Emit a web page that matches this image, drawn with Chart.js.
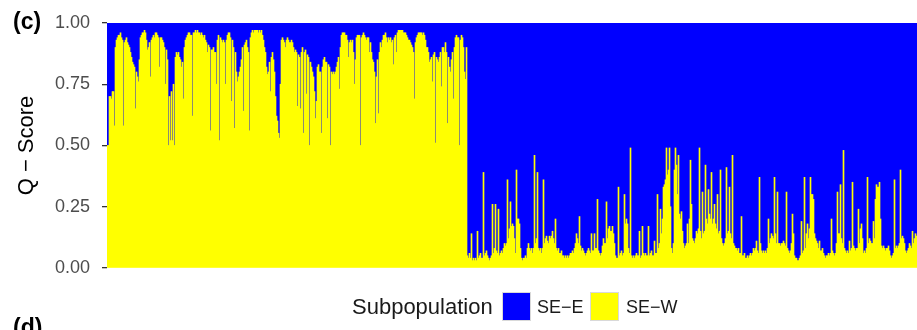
<!DOCTYPE html>
<html>
<head>
<meta charset="utf-8">
<script src="https://cdn.jsdelivr.net/npm/chart.js@4/dist/chart.umd.min.js"></script>
<style>
  html, body { margin: 0; padding: 0; background: #ffffff; }
  #wrap { position: relative; width: 917px; height: 330px; overflow: hidden; font-family: "Liberation Sans", Arial, sans-serif; }
  canvas { position: absolute; left: 0; top: 0; }
  .panel { position: absolute; left: 13px; font-weight: bold; font-size: 23px; line-height: 23px; color: #000; }
  .leg { position: absolute; white-space: nowrap; color: #1a1a1a; }
  .key { position: absolute; width: 29px; height: 29px; top: 292px; box-sizing: border-box; border: 1px solid #d9d9d9; }
</style>
</head>
<body>
<div id="wrap">
  <canvas id="c" width="917" height="330"></canvas>
  <div class="panel" style="top:10px;">(c)</div>
  <div class="panel" style="top:316px;">(d)</div>
  <div class="leg" style="left:352px; top:295px; font-size:22px; line-height:24px;">Subpopulation</div>
  <div class="key" style="left:502px; background:#0000FF;"></div>
  <div class="leg" style="left:537px; top:297px; font-size:18px; line-height:20px;">SE−E</div>
  <div class="key" style="left:590px; background:#FFFF00;"></div>
  <div class="leg" style="left:626px; top:297px; font-size:18px; line-height:20px;">SE−W</div>
</div>
<script>
// Q-score of each individual for subpopulation SE-W (yellow)
const seW = [
  0.50,0.50,0.70, 0.70,0.69,0.72, 0.72,0.58,0.90, 0.93,0.94,0.95, 0.95,0.96,0.94, 0.93,0.58,0.92, 0.93,0.94,0.92, 0.91,0.90,0.88, 0.86,0.84,0.83, 0.82,0.65,0.80,
  0.78,0.76,0.85, 0.94,0.95,0.96, 0.96,0.97,0.96, 0.93,0.89,0.90, 0.92,0.78,0.93, 0.94,0.95,0.94, 0.96,0.96,0.95, 0.94,0.82,0.94, 0.94,0.93,0.92, 0.90,0.75,0.89,
  0.85,0.50,0.70, 0.52,0.72,0.52, 0.75,0.50,0.86, 0.88,0.87,0.88, 0.86,0.85,0.82, 0.84,0.69,0.90, 0.93,0.94,0.95, 0.96,0.96,0.95, 0.95,0.62,0.96, 0.96,0.97,0.96,
  0.97,0.96,0.96, 0.95,0.96,0.95, 0.94,0.95,0.93, 0.92,0.88,0.91, 0.90,0.56,0.89, 0.89,0.90,0.88, 0.88,0.75,0.93, 0.95,0.52,0.94, 0.93,0.92,0.93, 0.92,0.75,0.93,
  0.95,0.96,0.96, 0.94,0.68,0.93, 0.90,0.57,0.88, 0.80,0.76,0.78, 0.80,0.82,0.85, 0.90,0.64,0.91, 0.92,0.93,0.90, 0.88,0.56,0.94, 0.96,0.97,0.96, 0.97,0.97,0.97,
  0.97,0.96,0.97, 0.96,0.97,0.95, 0.93,0.90,0.88, 0.82,0.79,0.80, 0.84,0.72,0.86, 0.88,0.85,0.80, 0.70,0.62,0.60, 0.55,0.53,0.75, 0.93,0.94,0.93, 0.92,0.90,0.93,
  0.94,0.93,0.92, 0.92,0.93,0.92, 0.90,0.88,0.89, 0.88,0.66,0.87, 0.86,0.65,0.88, 0.90,0.55,0.88, 0.89,0.71,0.87, 0.86,0.50,0.84, 0.82,0.80,0.78, 0.72,0.61,0.68,
  0.82,0.83,0.80, 0.80,0.55,0.82, 0.85,0.86,0.84, 0.84,0.61,0.83, 0.82,0.50,0.80, 0.79,0.80,0.79, 0.80,0.82,0.84, 0.86,0.73,0.90, 0.95,0.96,0.96, 0.96,0.95,0.95,
  0.93,0.86,0.92, 0.93,0.92,0.93, 0.88,0.75,0.85, 0.94,0.95,0.95, 0.95,0.50,0.94, 0.95,0.96,0.95, 0.94,0.93,0.94, 0.94,0.88,0.92, 0.88,0.85,0.84, 0.80,0.59,0.78,
  0.85,0.63,0.88, 0.92,0.90,0.93, 0.95,0.95,0.96, 0.94,0.92,0.94, 0.93,0.94,0.92, 0.93,0.83,0.94, 0.95,0.88,0.96, 0.97,0.97,0.97, 0.97,0.97,0.96, 0.96,0.96,0.95,
  0.94,0.93,0.93, 0.92,0.91,0.90, 0.88,0.69,0.92, 0.94,0.95,0.96, 0.96,0.96,0.96, 0.95,0.96,0.95, 0.93,0.90,0.90, 0.88,0.84,0.85, 0.86,0.76,0.87, 0.88,0.51,0.86,
  0.85,0.84,0.86, 0.88,0.74,0.90, 0.90,0.88,0.92, 0.88,0.59,0.86, 0.82,0.80,0.85, 0.88,0.69,0.90, 0.94,0.95,0.94, 0.94,0.50,0.93, 0.95,0.94,0.90, 0.80,0.77,0.90,
  0.05,0.04,0.06, 0.04,0.14,0.03, 0.04,0.03,0.04, 0.03,0.15,0.04, 0.05,0.06,0.04, 0.04,0.39,0.05, 0.06,0.07,0.05, 0.04,0.03,0.04, 0.05,0.26,0.06, 0.08,0.26,0.07,
  0.06,0.24,0.05, 0.06,0.07,0.06, 0.08,0.10,0.09, 0.10,0.36,0.12, 0.16,0.27,0.17, 0.18,0.17,0.12, 0.06,0.40,0.20, 0.20,0.18,0.08, 0.04,0.03,0.04, 0.04,0.05,0.04,
  0.08,0.10,0.08, 0.07,0.08,0.06, 0.08,0.46,0.10, 0.12,0.39,0.08, 0.07,0.08,0.06, 0.08,0.36,0.10, 0.12,0.13,0.11, 0.10,0.13,0.12, 0.13,0.15,0.12, 0.10,0.20,0.08,
  0.07,0.08,0.06, 0.06,0.07,0.05, 0.05,0.04,0.05, 0.04,0.05,0.04, 0.05,0.06,0.06, 0.07,0.06,0.08, 0.10,0.14,0.12, 0.10,0.21,0.09, 0.07,0.08,0.07, 0.06,0.05,0.06,
  0.07,0.08,0.07, 0.06,0.14,0.07, 0.07,0.14,0.08, 0.08,0.28,0.07, 0.06,0.05,0.06, 0.09,0.12,0.10, 0.10,0.27,0.12, 0.16,0.17,0.15, 0.15,0.17,0.14,
  0.10,0.05,0.04, 0.04,0.33,0.05, 0.06,0.07,0.05, 0.06,0.30,0.18, 0.20,0.18,0.08, 0.06,0.49,0.05, 0.04,0.05,0.04, 0.05,0.06,0.05, 0.05,0.15,0.04, 0.05,0.17,0.06,
  0.05,0.06,0.05, 0.05,0.17,0.05, 0.06,0.07,0.05, 0.05,0.11,0.06, 0.06,0.30,0.08, 0.10,0.24,0.14, 0.20,0.33,0.34, 0.36,0.49,0.38, 0.40,0.49,0.25, 0.08,0.06,0.10,
  0.40,0.49,0.42, 0.30,0.46,0.22, 0.20,0.23,0.15, 0.10,0.08,0.09, 0.10,0.18,0.10, 0.20,0.44,0.26, 0.12,0.11,0.10, 0.12,0.15,0.14, 0.16,0.49,0.15, 0.12,0.31,0.14,
  0.15,0.42,0.20, 0.18,0.32,0.22, 0.20,0.39,0.18, 0.20,0.26,0.18, 0.16,0.30,0.14, 0.15,0.40,0.12, 0.10,0.09,0.10, 0.12,0.41,0.14, 0.15,0.33,0.14, 0.12,0.46,0.10,
  0.09,0.08,0.08, 0.07,0.08,0.06, 0.06,0.21,0.05, 0.05,0.06,0.04, 0.04,0.05,0.04, 0.05,0.06,0.05, 0.06,0.08,0.07, 0.08,0.11,0.07, 0.06,0.37,0.10,
  0.07,0.06,0.07, 0.06,0.07,0.06, 0.08,0.20,0.10, 0.12,0.14,0.13, 0.12,0.37,0.14, 0.10,0.31,0.10, 0.10,0.09,0.10, 0.10,0.11,0.10, 0.09,0.31,0.08, 0.07,0.06,0.07,
  0.10,0.22,0.14, 0.05,0.04,0.04, 0.03,0.03,0.04, 0.05,0.19,0.06, 0.07,0.37,0.08, 0.14,0.18,0.12, 0.16,0.37,0.30, 0.30,0.28,0.14, 0.12,0.11,0.10, 0.08,0.11,0.07,
  0.07,0.08,0.06, 0.05,0.04,0.05, 0.05,0.06,0.05, 0.06,0.20,0.07, 0.06,0.05,0.06, 0.10,0.31,0.14, 0.14,0.34,0.12, 0.10,0.48,0.08, 0.07,0.06,0.07, 0.06,0.11,0.07,
  0.08,0.35,0.09, 0.08,0.07,0.08, 0.08,0.24,0.10, 0.16,0.18,0.12, 0.06,0.07,0.06, 0.08,0.37,0.10, 0.12,0.11,0.10, 0.10,0.19,0.12, 0.28,0.34,0.33, 0.33,0.35,0.20,
  0.09,0.08,0.09, 0.08,0.07,0.08, 0.08,0.09,0.07, 0.05,0.04,0.05, 0.06,0.36,0.08, 0.09,0.08,0.09, 0.10,0.40,0.12, 0.13,0.12,0.10, 0.07,0.06,0.07, 0.08,0.10,0.09, 0.08,0.15,0.10, 0.12,0.14,0.13
];

// Q-score of each individual for subpopulation SE-E (blue)
const seE = [
  0.50,0.50,0.30, 0.30,0.31,0.28, 0.28,0.42,0.10, 0.07,0.06,0.05, 0.05,0.04,0.06, 0.07,0.42,0.08, 0.07,0.06,0.08, 0.09,0.10,0.12, 0.14,0.16,0.17, 0.18,0.35,0.20,
  0.22,0.24,0.15, 0.06,0.05,0.04, 0.04,0.03,0.04, 0.07,0.11,0.10, 0.08,0.22,0.07, 0.06,0.05,0.06, 0.04,0.04,0.05, 0.06,0.18,0.06, 0.06,0.07,0.08, 0.10,0.25,0.11,
  0.15,0.50,0.30, 0.48,0.28,0.48, 0.25,0.50,0.14, 0.12,0.13,0.12, 0.14,0.15,0.18, 0.16,0.31,0.10, 0.07,0.06,0.05, 0.04,0.04,0.05, 0.05,0.38,0.04, 0.04,0.03,0.04,
  0.03,0.04,0.04, 0.05,0.04,0.05, 0.06,0.05,0.07, 0.08,0.12,0.09, 0.10,0.44,0.11, 0.11,0.10,0.12, 0.12,0.25,0.07, 0.05,0.48,0.06, 0.07,0.08,0.07, 0.08,0.25,0.07,
  0.05,0.04,0.04, 0.06,0.32,0.07, 0.10,0.43,0.12, 0.20,0.24,0.22, 0.20,0.18,0.15, 0.10,0.36,0.09, 0.08,0.07,0.10, 0.12,0.44,0.06, 0.04,0.03,0.04, 0.03,0.03,0.03,
  0.03,0.04,0.03, 0.04,0.03,0.05, 0.07,0.10,0.12, 0.18,0.21,0.20, 0.16,0.28,0.14, 0.12,0.15,0.20, 0.30,0.38,0.40, 0.45,0.47,0.25, 0.07,0.06,0.07, 0.08,0.10,0.07,
  0.06,0.07,0.08, 0.08,0.07,0.08, 0.10,0.12,0.11, 0.12,0.34,0.13, 0.14,0.35,0.12, 0.10,0.45,0.12, 0.11,0.29,0.13, 0.14,0.50,0.16, 0.18,0.20,0.22, 0.28,0.39,0.32,
  0.18,0.17,0.20, 0.20,0.45,0.18, 0.15,0.14,0.16, 0.16,0.39,0.17, 0.18,0.50,0.20, 0.21,0.20,0.21, 0.20,0.18,0.16, 0.14,0.27,0.10, 0.05,0.04,0.04, 0.04,0.05,0.05,
  0.07,0.14,0.08, 0.07,0.08,0.07, 0.12,0.25,0.15, 0.06,0.05,0.05, 0.05,0.50,0.06, 0.05,0.04,0.05, 0.06,0.07,0.06, 0.06,0.12,0.08, 0.12,0.15,0.16, 0.20,0.41,0.22,
  0.15,0.37,0.12, 0.08,0.10,0.07, 0.05,0.05,0.04, 0.06,0.08,0.06, 0.07,0.06,0.08, 0.07,0.17,0.06, 0.05,0.12,0.04, 0.03,0.03,0.03, 0.03,0.03,0.04, 0.04,0.04,0.05,
  0.06,0.07,0.07, 0.08,0.09,0.10, 0.12,0.31,0.08, 0.06,0.05,0.04, 0.04,0.04,0.04, 0.05,0.04,0.05, 0.07,0.10,0.10, 0.12,0.16,0.15, 0.14,0.24,0.13, 0.12,0.49,0.14,
  0.15,0.16,0.14, 0.12,0.26,0.10, 0.10,0.12,0.08, 0.12,0.41,0.14, 0.18,0.20,0.15, 0.12,0.31,0.10, 0.06,0.05,0.06, 0.06,0.50,0.07, 0.05,0.06,0.10, 0.20,0.23,0.10,
  0.95,0.96,0.94, 0.96,0.86,0.97, 0.96,0.97,0.96, 0.97,0.85,0.96, 0.95,0.94,0.96, 0.96,0.61,0.95, 0.94,0.93,0.95, 0.96,0.97,0.96, 0.95,0.74,0.94, 0.92,0.74,0.93,
  0.94,0.76,0.95, 0.94,0.93,0.94, 0.92,0.90,0.91, 0.90,0.64,0.88, 0.84,0.73,0.83, 0.82,0.83,0.88, 0.94,0.60,0.80, 0.80,0.82,0.92, 0.96,0.97,0.96, 0.96,0.95,0.96,
  0.92,0.90,0.92, 0.93,0.92,0.94, 0.92,0.54,0.90, 0.88,0.61,0.92, 0.93,0.92,0.94, 0.92,0.64,0.90, 0.88,0.87,0.89, 0.90,0.87,0.88, 0.87,0.85,0.88, 0.90,0.80,0.92,
  0.93,0.92,0.94, 0.94,0.93,0.95, 0.95,0.96,0.95, 0.96,0.95,0.96, 0.95,0.94,0.94, 0.93,0.94,0.92, 0.90,0.86,0.88, 0.90,0.79,0.91, 0.93,0.92,0.93, 0.94,0.95,0.94,
  0.93,0.92,0.93, 0.94,0.86,0.93, 0.93,0.86,0.92, 0.92,0.72,0.93, 0.94,0.95,0.94, 0.91,0.88,0.90, 0.90,0.73,0.88, 0.84,0.83,0.85, 0.85,0.83,0.86,
  0.90,0.95,0.96, 0.96,0.67,0.95, 0.94,0.93,0.95, 0.94,0.70,0.82, 0.80,0.82,0.92, 0.94,0.51,0.95, 0.96,0.95,0.96, 0.95,0.94,0.95, 0.95,0.85,0.96, 0.95,0.83,0.94,
  0.95,0.94,0.95, 0.95,0.83,0.95, 0.94,0.93,0.95, 0.95,0.89,0.94, 0.94,0.70,0.92, 0.90,0.76,0.86, 0.80,0.67,0.66, 0.64,0.51,0.62, 0.60,0.51,0.75, 0.92,0.94,0.90,
  0.60,0.51,0.58, 0.70,0.54,0.78, 0.80,0.77,0.85, 0.90,0.92,0.91, 0.90,0.82,0.90, 0.80,0.56,0.74, 0.88,0.89,0.90, 0.88,0.85,0.86, 0.84,0.51,0.85, 0.88,0.69,0.86,
  0.85,0.58,0.80, 0.82,0.68,0.78, 0.80,0.61,0.82, 0.80,0.74,0.82, 0.84,0.70,0.86, 0.85,0.60,0.88, 0.90,0.91,0.90, 0.88,0.59,0.86, 0.85,0.67,0.86, 0.88,0.54,0.90,
  0.91,0.92,0.92, 0.93,0.92,0.94, 0.94,0.79,0.95, 0.95,0.94,0.96, 0.96,0.95,0.96, 0.95,0.94,0.95, 0.94,0.92,0.93, 0.92,0.89,0.93, 0.94,0.63,0.90,
  0.93,0.94,0.93, 0.94,0.93,0.94, 0.92,0.80,0.90, 0.88,0.86,0.87, 0.88,0.63,0.86, 0.90,0.69,0.90, 0.90,0.91,0.90, 0.90,0.89,0.90, 0.91,0.69,0.92, 0.93,0.94,0.93,
  0.90,0.78,0.86, 0.95,0.96,0.96, 0.97,0.97,0.96, 0.95,0.81,0.94, 0.93,0.63,0.92, 0.86,0.82,0.88, 0.84,0.63,0.70, 0.70,0.72,0.86, 0.88,0.89,0.90, 0.92,0.89,0.93,
  0.93,0.92,0.94, 0.95,0.96,0.95, 0.95,0.94,0.95, 0.94,0.80,0.93, 0.94,0.95,0.94, 0.90,0.69,0.86, 0.86,0.66,0.88, 0.90,0.52,0.92, 0.93,0.94,0.93, 0.94,0.89,0.93,
  0.92,0.65,0.91, 0.92,0.93,0.92, 0.92,0.76,0.90, 0.84,0.82,0.88, 0.94,0.93,0.94, 0.92,0.63,0.90, 0.88,0.89,0.90, 0.90,0.81,0.88, 0.72,0.66,0.67, 0.67,0.65,0.80,
  0.91,0.92,0.91, 0.92,0.93,0.92, 0.92,0.91,0.93, 0.95,0.96,0.95, 0.94,0.64,0.92, 0.91,0.92,0.91, 0.90,0.60,0.88, 0.87,0.88,0.90, 0.93,0.94,0.93, 0.92,0.90,0.91, 0.92,0.85,0.90, 0.88,0.86,0.87
];

// Individuals (categories along x)
const samples = seW.map((_, i) => 'Ind' + (i + 1));
// Y tick labels
const yTickLabels = ['0.00', '0.25', '0.50', '0.75', '1.00'];
const yTickValues = [0, 0.25, 0.5, 0.75, 1];

new Chart(document.getElementById('c'), {
  type: 'bar',
  data: {
    labels: samples,
    datasets: [
      { label: 'SE-W', data: seW, backgroundColor: '#FFFF00', borderWidth: 0,
        barPercentage: 1, categoryPercentage: 1 },
      { label: 'SE-E', data: seE, backgroundColor: '#0000FF', borderWidth: 0,
        barPercentage: 1, categoryPercentage: 1 }
    ]
  },
  options: {
    responsive: false,
    animation: false,
    devicePixelRatio: 1,
    layout: { padding: { left: 0, right: 0, top: 23, bottom: 62 } },
    plugins: { legend: { display: false }, tooltip: { enabled: false } },
    scales: {
      x: { stacked: true, display: false, offset: true },
      y: {
        stacked: true,
        min: 0, max: 1,
        afterFit: (s) => { s.width = 107; },
        afterBuildTicks: (s) => { s.ticks = yTickValues.map(v => ({ value: v })); },
        border: { display: false },
        grid: { display: true, drawOnChartArea: false, drawTicks: true, tickLength: 5,
                color: '#333333', lineWidth: 1.3 },
        ticks: {
          padding: 12,
          color: '#4D4D4D',
          font: { family: 'Liberation Sans', size: 18 },
          callback: (v) => yTickLabels[yTickValues.indexOf(v)]
        },
        title: {
          display: true,
          text: 'Q − Score',
          color: '#000000',
          font: { family: 'Liberation Sans', size: 22 },
          padding: { top: 14, bottom: 0 }
        }
      }
    }
  }
});
</script>
</body>
</html>
